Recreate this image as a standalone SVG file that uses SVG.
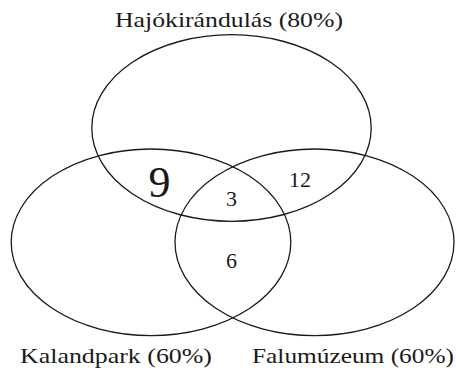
<svg xmlns="http://www.w3.org/2000/svg" width="456" height="371" viewBox="0 0 456 371">
<style>
.set{fill:none;stroke:#1a1a1a;stroke-width:1.3}
text{font-family:"Liberation Serif","DejaVu Serif",serif;fill:#1a1a1a;font-size:22px}
.n{text-anchor:middle}
</style>
<rect width="456" height="371" fill="#fff"/>
<g id="set-hajo">
<ellipse class="set" cx="231.5" cy="128" rx="139.7" ry="93.3"/>
<text x="115" y="26.7" textLength="228" lengthAdjust="spacingAndGlyphs">Hajókirándulás (80%)</text>
</g>
<g id="set-kaland">
<ellipse class="set" cx="151" cy="242.3" rx="139.8" ry="93.3"/>
<text x="20" y="363" textLength="192" lengthAdjust="spacingAndGlyphs">Kalandpark (60%)</text>
</g>
<g id="set-falu">
<ellipse class="set" cx="314.5" cy="242.3" rx="139.5" ry="93.3"/>
<text x="252" y="363" textLength="202" lengthAdjust="spacingAndGlyphs">Falumúzeum (60%)</text>
</g>
<g id="counts">
<text class="n" x="159.5" y="196.5" style="font-size:44px">9</text>
<text class="n" x="231.5" y="205.5">3</text>
<text class="n" x="300" y="187">12</text>
<text class="n" x="231.5" y="268">6</text>
</g>
</svg>
